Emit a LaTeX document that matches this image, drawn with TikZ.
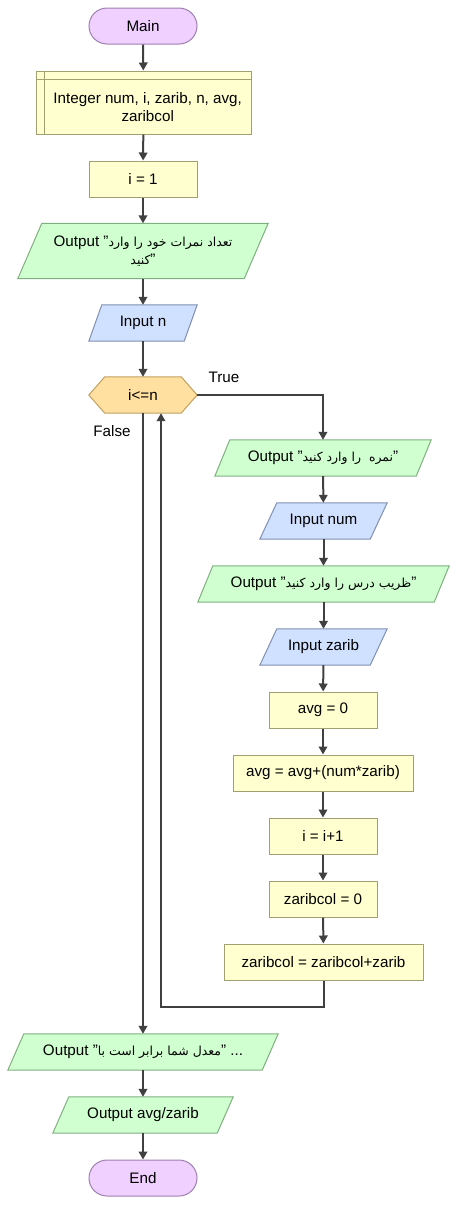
\documentclass[tikz,border=0pt]{standalone}
\usepackage{fontspec}
\setmainfont{Liberation Sans}
\newfontfamily\arabicfont[Script=Arabic,Scale=0.82]{DejaVu Sans}
\TeXXeTstate=1
\usetikzlibrary{arrows.meta,backgrounds,calc}

\definecolor{termfill}{RGB}{239,208,255}
\definecolor{termdraw}{RGB}{160,128,176}
\definecolor{procfill}{RGB}{255,255,208}
\definecolor{procdraw}{RGB}{160,160,112}
\definecolor{outfill}{RGB}{208,255,208}
\definecolor{outdraw}{RGB}{128,176,128}
\definecolor{infill}{RGB}{208,224,255}
\definecolor{indraw}{RGB}{128,144,176}
\definecolor{decfill}{RGB}{255,224,160}
\definecolor{decdraw}{RGB}{192,160,96}
\definecolor{linec}{RGB}{64,64,64}

\tikzset{
  base/.style={inner sep=0pt, font=\fontsize{15.2}{17.8}\selectfont, text=black, align=center},
  term/.style={base, draw=termdraw, fill=termfill, line width=1pt, rounded corners=18pt, minimum width=108pt, minimum height=36pt},
  proc/.style={base, draw=procdraw, fill=procfill, line width=1pt, minimum height=36pt},
  iobox/.style={base, minimum height=36pt},
  decbox/.style={base, minimum width=108pt, minimum height=36pt},
  outshape/.style={fill=outfill, draw=outdraw, line width=1pt},
  inshape/.style={fill=infill, draw=indraw, line width=1pt},
  decshape/.style={fill=decfill, draw=decdraw, line width=1pt},
  arr/.style={draw=linec, line width=2pt, -{Triangle[length=8pt,width=8.5pt]}},
  lbl/.style={base}
}
\newcommand{\ar}[1]{{\arabicfont\beginR #1\endR}}

\begin{document}
\begin{tikzpicture}[x=1pt,y=1pt]
\useasboundingbox (0,0) rectangle (458,-1205);

% left column
\node[term] (main) at (143,-26) {Main};
\node[proc, minimum width=215pt, minimum height=63pt] (decl) at (143.5,-102.5) {};
\draw[procdraw, line width=1pt] ([xshift=8.6pt]decl.north west) -- ([xshift=8.6pt]decl.south west);
\draw[procdraw, line width=1pt] ([yshift=-9.3pt]decl.north west) -- ([yshift=-9.3pt]decl.north east);
\node[base] (decltext) at ($(decl.center)+(4.2,-4.8)$) {Integer num, i, zarib, n, avg,\\zaribcol};
\node[proc, minimum width=108pt] (i1) at (143,-179) {i = 1};
\node[iobox, minimum width=250pt, minimum height=55pt] (o1) at (143,-251) {Output "\ar{تعداد نمرات خود را وارد}\\\ar{کنید}"};
\node[iobox, minimum width=108pt] (inn) at (143,-323) {Input n};
\node[decbox] (dec) at (143,-395) {i<=n};
\node[lbl] (truelbl) at (224,-377) {True};
\node[lbl] (falselbl) at (112,-431) {False};

% right column
\node[iobox, minimum width=216pt] (o2) at (323,-458) {Output "\ar{نمره~ را وارد کنید}"};
\node[iobox, minimum width=127pt] (innum) at (323.5,-521) {Input num};
\node[iobox, minimum width=251pt] (o3) at (323.5,-584) {Output "\ar{ظریب درس را وارد کنید}"};
\node[iobox, minimum width=127pt] (inzarib) at (323.5,-647) {Input zarib};
\node[proc, minimum width=108pt] (avg0) at (323,-710) {avg = 0};
\node[proc, minimum width=180pt] (avgsum) at (323,-773) {avg = avg+(num*zarib)};
\node[proc, minimum width=108pt] (inc) at (323,-836) {i = i+1};
\node[proc, minimum width=108pt] (zc0) at (323,-899) {zaribcol = 0};
\node[proc, minimum width=199pt] (zcsum) at (323.5,-962) {zaribcol = zaribcol+zarib};

% bottom
\node[iobox, minimum width=270pt] (o4) at (143,-1052) {Output "\ar{معدل شما برابر است با}" ...};
\node[iobox, minimum width=180pt] (o5) at (143,-1115) {Output avg/zarib};
\node[term] (endn) at (143,-1178) {End};

\begin{scope}[on background layer]
  \foreach \n/\s in {o1/24, o2/15, o3/15, o4/16, o5/16}{
    \path[outshape] ($(\n.north west)+(\s,0)$) -- (\n.north east) -- ($(\n.south east)-(\s,0)$) -- (\n.south west) -- cycle;
  }
  \foreach \n/\s in {inn/13, innum/17, inzarib/17}{
    \path[inshape] ($(\n.north west)+(\s,0)$) -- (\n.north east) -- ($(\n.south east)-(\s,0)$) -- (\n.south west) -- cycle;
  }
  \path[decshape] (dec.west) -- ([xshift=16pt]dec.north west) -- ([xshift=-16pt]dec.north east) -- (dec.east) -- ([xshift=-16pt]dec.south east) -- ([xshift=16pt]dec.south west) -- cycle;
\end{scope}

% connectors
\draw[arr] (main) -- (decl);
\draw[arr] (decl) -- (i1);
\draw[arr] (i1) -- (o1);
\draw[arr] (o1) -- (inn);
\draw[arr] (inn) -- (dec);
\draw[arr] (dec.east) -| (o2.north);
\draw[arr] (o2) -- (innum);
\draw[arr] (innum) -- (o3);
\draw[arr] (o3) -- (inzarib);
\draw[arr] (inzarib) -- (avg0);
\draw[arr] (avg0) -- (avgsum);
\draw[arr] (avgsum) -- (inc);
\draw[arr] (inc) -- (zc0);
\draw[arr] (zc0) -- (zcsum);
\draw[arr] (zcsum.south) -- ++(0,-26) -| ([xshift=18pt]dec.south);
\draw[arr] (dec.south) -- (o4.north);
\draw[arr] (o4) -- (o5);
\draw[arr] (o5) -- (endn);
\end{tikzpicture}
\end{document}
